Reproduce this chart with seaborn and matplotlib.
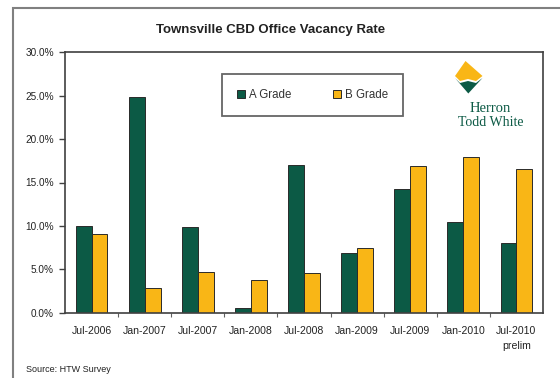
import matplotlib
matplotlib.use("Agg")
import matplotlib.pyplot as plt
from matplotlib.patches import Rectangle, Polygon
from matplotlib.ticker import FuncFormatter, FixedLocator
import pandas as pd
import seaborn as sns

# Survey periods and vacancy rates (%)
periods = ["Jul-2006", "Jan-2007", "Jul-2007", "Jan-2008", "Jul-2008",
           "Jan-2009", "Jul-2009", "Jan-2010", "Jul-2010\nprelim"]
a_grade = [10.0, 24.8, 9.9, 0.5, 17.0, 6.9, 14.2, 10.4, 8.0]
b_grade = [9.1, 2.8, 4.7, 3.8, 4.6, 7.5, 16.9, 17.9, 16.6]
series_names = ["A Grade", "B Grade"]

GREEN = "#0c5a45"
GOLD = "#f9b616"

df = pd.DataFrame({
    "period": periods * 2,
    "rate": a_grade + b_grade,
    "grade": [series_names[0]] * len(periods) + [series_names[1]] * len(periods),
})

sns.set_theme(style="white")
plt.rcParams["font.family"] = ["Liberation Sans", "DejaVu Sans"]

W, H = 560, 378
fig = plt.figure(figsize=(W / 100, H / 100), dpi=100)
ax = fig.add_axes([65 / W, 1 - 312.7 / H, 478 / W, 260.4 / H])

sns.barplot(data=df, x="period", y="rate", hue="grade", order=periods,
            hue_order=series_names, palette=[GREEN, GOLD], width=0.6,
            edgecolor="#2a2a2a", linewidth=0.7, saturation=1, ax=ax)

ax.set_ylim(0, 30)
ax.set_xlim(-0.5, len(periods) - 0.5)
ax.set_yticks([0, 5, 10, 15, 20, 25, 30])
ax.yaxis.set_major_formatter(FuncFormatter(lambda v, _: f"{v:.1f}%"))
ax.set_xlabel("")
ax.set_ylabel("")

ax.tick_params(axis="y", which="major", direction="out", length=4, width=1,
               color="#404040", labelsize=7.2, pad=4, left=True, labelcolor="#222222")
ax.tick_params(axis="x", which="major", length=0, labelsize=7.6, pad=9.5,
               labelcolor="#222222")
for lbl in ax.get_xticklabels():
    lbl.set_linespacing(1.7)
ax.xaxis.set_minor_locator(FixedLocator([i + 0.5 for i in range(len(periods) - 1)]))
ax.tick_params(axis="x", which="minor", direction="out", length=3, width=0.8,
               color="#606060", bottom=True)

for s in ax.spines.values():
    s.set_color("#404040")
    s.set_linewidth(1.2)

leg = ax.legend(loc="upper left", bbox_to_anchor=(0.328, 0.917), ncol=2,
                frameon=True, fancybox=False, fontsize=8.3,
                handlelength=0.75, handleheight=0.75, handletextpad=0.3,
                columnspacing=3.6, borderpad=1.3, borderaxespad=0)
leg.get_frame().set_edgecolor("#404040")
leg.get_frame().set_linewidth(1.3)
for t in leg.get_texts():
    t.set_color("#333333")

# Company mark: diamond emblem and name
def fig_pt(x, y):
    return (x / W, 1 - y / H)

gold_shape = [fig_pt(465.5, 61), fig_pt(455, 76), fig_pt(460, 81),
              fig_pt(468, 79), fig_pt(476, 81), fig_pt(482.5, 76)]
green_shape = [fig_pt(455, 78), fig_pt(468.3, 93.5), fig_pt(482.5, 78),
               fig_pt(476, 83), fig_pt(468, 81), fig_pt(460, 83)]
fig.add_artist(Polygon(gold_shape, closed=True, facecolor=GOLD, edgecolor="none",
                       transform=fig.transFigure))
fig.add_artist(Polygon(green_shape, closed=True, facecolor=GREEN, edgecolor="none",
                       transform=fig.transFigure))
fig.text(490 / W, 1 - 109 / H, "Herron", ha="center", va="center",
         family=["Liberation Serif", "DejaVu Serif"], fontsize=10.5, color=GREEN)
fig.text(491 / W, 1 - 123 / H, "Todd White", ha="center", va="center",
         family=["Liberation Serif", "DejaVu Serif"], fontsize=10, color=GREEN)

# Title and source
fig.text(271 / W, 1 - 30 / H, "Townsville CBD Office Vacancy Rate", ha="center",
         va="center", fontsize=9.5, fontweight="bold", color="#222222")
fig.text(26 / W, 1 - 370 / H, "Source: HTW Survey", ha="left", va="center",
         fontsize=6.5, color="#222222")

# Outer panel border
fig.add_artist(Rectangle((13 / W, -0.1), 1.2, 1 - 8 / H + 0.1, fill=False,
                         edgecolor="#808080", linewidth=1.5,
                         transform=fig.transFigure, clip_on=False))

fig.savefig("out.png", dpi=100, facecolor="white")
